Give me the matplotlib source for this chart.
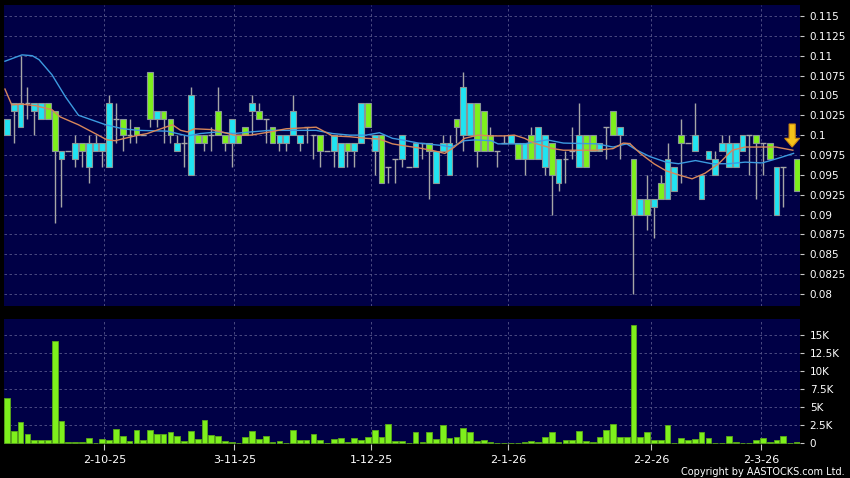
import matplotlib
matplotlib.use("Agg")
import matplotlib.pyplot as plt
from matplotlib.patches import FancyArrow
import numpy as np

# ---------------- data ----------------
opens = [0.100, 0.103, 0.101, 0.104, 0.103, 0.102, 0.104, 0.103, 0.097, 0.098,
         0.097, 0.099, 0.096, 0.098, 0.098, 0.096, 0.102, 0.102, 0.100, 0.101,
         0.100, 0.108, 0.102, 0.103, 0.102, 0.098, 0.099, 0.095, 0.100, 0.100,
         0.100, 0.103, 0.100, 0.099, 0.100, 0.101, 0.103, 0.103, 0.102, 0.101,
         0.099, 0.099, 0.100, 0.099, 0.101, 0.100, 0.100, 0.098, 0.098, 0.096,
         0.099, 0.098, 0.099, 0.104, 0.098, 0.100, 0.096, 0.097, 0.097, 0.096,
         0.096, 0.099, 0.099, 0.094, 0.098, 0.095, 0.102, 0.100, 0.100, 0.104,
         0.103, 0.100, 0.098, 0.099, 0.099, 0.099, 0.097, 0.100, 0.097, 0.096,
         0.099, 0.094, 0.097, 0.098, 0.096, 0.100, 0.100, 0.098, 0.101, 0.103,
         0.100, 0.099, 0.097, 0.090, 0.092, 0.091, 0.094, 0.092, 0.093, 0.100,
         0.099, 0.098, 0.092, 0.097, 0.095, 0.098, 0.096, 0.096, 0.098, 0.100,
         0.100, 0.099, 0.099, 0.090, 0.096, np.nan, 0.097]
closes = [0.102, 0.104, 0.104, 0.104, 0.104, 0.104, 0.102, 0.098, 0.098, 0.098,
          0.099, 0.098, 0.099, 0.099, 0.099, 0.104, 0.102, 0.100, 0.100, 0.100,
          0.100, 0.102, 0.103, 0.102, 0.100, 0.099, 0.099, 0.105, 0.099, 0.099,
          0.100, 0.100, 0.099, 0.102, 0.099, 0.100, 0.104, 0.102, 0.102, 0.099,
          0.100, 0.100, 0.103, 0.100, 0.101, 0.100, 0.098, 0.098, 0.100, 0.099,
          0.098, 0.099, 0.104, 0.101, 0.100, 0.094, 0.096, 0.097, 0.100, 0.096,
          0.099, 0.099, 0.098, 0.098, 0.099, 0.099, 0.101, 0.106, 0.104, 0.098,
          0.098, 0.098, 0.098, 0.099, 0.100, 0.097, 0.099, 0.097, 0.101, 0.100,
          0.095, 0.097, 0.097, 0.098, 0.100, 0.096, 0.098, 0.099, 0.101, 0.100,
          0.101, 0.099, 0.090, 0.092, 0.090, 0.092, 0.092, 0.097, 0.096, 0.099,
          0.099, 0.100, 0.095, 0.098, 0.097, 0.099, 0.099, 0.099, 0.100, 0.100,
          0.099, 0.099, 0.097, 0.096, 0.096, np.nan, 0.093]
highs = [0.102, 0.104, 0.110, 0.106, 0.104, 0.104, 0.104, 0.103, 0.098, 0.098,
         0.100, 0.099, 0.100, 0.100, 0.099, 0.105, 0.104, 0.102, 0.102, 0.101,
         0.100, 0.108, 0.103, 0.103, 0.102, 0.100, 0.100, 0.106, 0.100, 0.100,
         0.101, 0.106, 0.100, 0.102, 0.100, 0.101, 0.105, 0.104, 0.102, 0.101,
         0.100, 0.100, 0.105, 0.100, 0.101, 0.100, 0.100, 0.098, 0.100, 0.099,
         0.099, 0.099, 0.104, 0.104, 0.100, 0.100, 0.096, 0.097, 0.100, 0.096,
         0.099, 0.099, 0.099, 0.098, 0.100, 0.100, 0.102, 0.108, 0.104, 0.104,
         0.103, 0.101, 0.098, 0.100, 0.100, 0.099, 0.099, 0.101, 0.101, 0.100,
         0.099, 0.097, 0.098, 0.101, 0.104, 0.100, 0.100, 0.099, 0.101, 0.103,
         0.101, 0.099, 0.097, 0.092, 0.095, 0.092, 0.095, 0.099, 0.096, 0.102,
         0.099, 0.104, 0.095, 0.098, 0.098, 0.100, 0.100, 0.099, 0.100, 0.100,
         0.100, 0.099, 0.099, 0.096, 0.096, np.nan, 0.097]
lows = [0.100, 0.099, 0.101, 0.102, 0.100, 0.102, 0.102, 0.089, 0.091, 0.098,
        0.096, 0.096, 0.094, 0.098, 0.096, 0.096, 0.099, 0.098, 0.099, 0.099,
        0.100, 0.101, 0.101, 0.099, 0.099, 0.098, 0.096, 0.095, 0.099, 0.098,
        0.098, 0.100, 0.098, 0.096, 0.099, 0.100, 0.100, 0.102, 0.099, 0.099,
        0.098, 0.098, 0.100, 0.098, 0.099, 0.097, 0.096, 0.098, 0.096, 0.096,
        0.096, 0.096, 0.099, 0.101, 0.095, 0.094, 0.094, 0.094, 0.096, 0.096,
        0.096, 0.097, 0.092, 0.094, 0.098, 0.095, 0.099, 0.098, 0.100, 0.096,
        0.098, 0.098, 0.096, 0.099, 0.099, 0.097, 0.095, 0.097, 0.097, 0.095,
        0.090, 0.093, 0.094, 0.097, 0.096, 0.096, 0.098, 0.098, 0.097, 0.100,
        0.097, 0.099, 0.080, 0.090, 0.088, 0.087, 0.092, 0.092, 0.093, 0.094,
        0.099, 0.098, 0.092, 0.097, 0.095, 0.098, 0.096, 0.096, 0.098, 0.095,
        0.092, 0.095, 0.097, 0.090, 0.091, np.nan, 0.093]
volumes = [6250, 1760, 2960, 1300, 510, 510, 420, 14170, 3100, 230,
           140, 140, 740, 0, 560, 420, 2000, 1020, 320, 1850,
           460, 1800, 1340, 1340, 1570, 1020, 280, 1670, 650, 3240,
           1160, 970, 280, 230, 90, 880, 1710, 600, 970, 190,
           280, 0, 1900, 460, 460, 1250, 420, 0, 600, 690,
           190, 740, 420, 930, 1850, 880, 2690, 280, 280, 0,
           1530, 190, 1500, 650, 2500, 790, 880, 2080, 1570, 320,
           420, 230, 0, 0, 0, 0, 140, 320, 140, 880,
           1570, 140, 510, 510, 1760, 320, 230, 880, 1800, 2690,
           880, 930, 16390, 880, 1570, 420, 420, 2500, 90, 740,
           420, 650, 1570, 740, 0, 0, 1020, 140, 0, 0,
           420, 740, 140, 510, 1020, 0, 140]

# moving-average lines, read point by point (x in trading-day slots)
ma_short_x = [-0.3, 0.7, 2.2, 4.2, 6.6, 7.8, 10.5, 12.5, 14.7, 15.9, 17.8, 19.3, 20.6,
              22.6, 24.3, 25.5, 26.5, 27.5, 30, 32, 33.3, 35.8, 38.6, 41, 45.4, 47.8,
              50.3, 52.7, 54.7, 56.6, 58, 60.4, 62.3, 64.3, 65.7, 67.2, 69.2, 71.1,
              73, 74.5, 76, 77.4, 80.2, 81.7, 86.6, 89, 90.5, 91.5, 93, 95, 96.8,
              98.6, 100.6, 102.5, 104.5, 106.5, 108.4, 110.9, 112.9, 115.4]
ma_short_y = [0.1058, 0.1038, 0.1039, 0.1037, 0.1032, 0.1023, 0.1013, 0.1004, 0.0994,
              0.0993, 0.0997, 0.1000, 0.1002, 0.1008, 0.1013, 0.1006, 0.1004, 0.1008,
              0.1007, 0.1003, 0.1000, 0.1000, 0.1004, 0.1008, 0.1010, 0.0999, 0.0998,
              0.0996, 0.0995, 0.0989, 0.0987, 0.0984, 0.0981, 0.0977, 0.0985, 0.0996,
              0.1000, 0.0999, 0.0999, 0.1000, 0.0996, 0.0990, 0.0983, 0.0981, 0.0981,
              0.0983, 0.0990, 0.0989, 0.0977, 0.0964, 0.0955, 0.0950, 0.0945, 0.0952,
              0.0964, 0.0981, 0.0985, 0.0985, 0.0985, 0.0981]
ma_long_x = [-0.3, 2.2, 3.7, 4.7, 6.6, 8.6, 10.5, 12.5, 14.5, 17, 19.3, 23.5, 26.5,
             28.4, 30.9, 33.3, 35.8, 38.6, 41.9, 45.4, 47.8, 50.3, 52.7, 54.7, 56.6,
             58, 60.4, 63.8, 65.3, 67.2, 68.7, 71.1, 72.1, 76, 79.3, 81.7, 86.6, 89,
             91, 92.5, 94.4, 96.8, 98.6, 101.1, 103.5, 106, 108.4, 110.9, 113.3, 115.5]
ma_long_y = [0.1093, 0.1101, 0.1100, 0.1095, 0.1076, 0.1048, 0.1025, 0.1019, 0.1013,
             0.1008, 0.1006, 0.1005, 0.0999, 0.1002, 0.1004, 0.1002, 0.1004, 0.1006,
             0.1006, 0.1006, 0.1002, 0.1000, 0.1000, 0.1003, 0.0996, 0.0994, 0.0990,
             0.0987, 0.0985, 0.0993, 0.0994, 0.0993, 0.0989, 0.0989, 0.0994, 0.0990,
             0.0989, 0.0985, 0.0989, 0.0981, 0.0973, 0.0966, 0.0964, 0.0968, 0.0964,
             0.0964, 0.0966, 0.0965, 0.0971, 0.0977]

date_labels = ["2-10-25", "3-11-25", "1-12-25", "2-1-26", "2-2-26", "2-3-26"]
date_slots = [14.3, 33.4, 53.5, 73.6, 94.6, 110.7]
price_ticks = [0.08, 0.0825, 0.085, 0.0875, 0.09, 0.0925, 0.095, 0.0975, 0.1,
               0.1025, 0.105, 0.1075, 0.11, 0.1125, 0.115]
price_labels = ["0.08", "0.0825", "0.085", "0.0875", "0.09", "0.0925", "0.095",
                "0.0975", "0.1", "0.1025", "0.105", "0.1075", "0.11", "0.1125", "0.115"]
vol_ticks = [0, 2500, 5000, 7500, 10000, 12500, 15000]
vol_labels = ["0", "2.5K", "5K", "7.5K", "10K", "12.5K", "15K"]

# ---------------- style ----------------
BG = "#000000"
PANEL = "#000046"
GRID = "#55558a"
UP = "#20e4f2"
DOWN = "#7ef01c"
EDGE = "#8a9696"
WICK = "#a6a6a6"
TXT = "#ffffff"

o = np.array(opens); c = np.array(closes)
h = np.array(highs); l = np.array(lows)
v = np.array(volumes, dtype=float)
idx = np.arange(len(o))

fig = plt.figure(figsize=(8.5, 4.78), dpi=100, facecolor=BG)
ax = fig.add_axes([4/850, 1-306/478, 796/850, 301/478], facecolor=PANEL)
axv = fig.add_axes([4/850, 1-444/478, 796/850, 125/478], facecolor=PANEL)

xlim = (-0.44, 116.45)
for a in (ax, axv):
    a.set_xlim(*xlim)
    for s in a.spines.values():
        s.set_visible(False)
    a.yaxis.tick_right()
    a.tick_params(axis="y", colors="#c8c8c8", labelcolor=TXT, labelsize=7.5,
                  length=3, width=0.8, pad=4)
    for xp in date_slots:
        a.axvline(xp, color=GRID, lw=0.6, ls=(0, (3, 3)), zorder=0.5)

ax.set_ylim(0.07849, 0.11638)
ax.set_yticks(price_ticks)
ax.set_yticklabels(price_labels)
ax.set_xticks([])
for yv in price_ticks:
    ax.axhline(yv, color=GRID, lw=0.6, ls=(0, (3, 3)), zorder=0.5)

# candles
valid = ~np.isnan(o)
ax.vlines(idx[valid], l[valid], h[valid], color=WICK, lw=1.0, zorder=2)
body_w = 0.84
up = valid & (c > o)
dn = valid & (c < o)
dj = valid & (c == o)
ax.bar(idx[up], (c - o)[up], bottom=o[up], width=body_w, color=UP,
       edgecolor=EDGE, linewidth=0.8, zorder=3)
ax.bar(idx[dn], (o - c)[dn], bottom=c[dn], width=body_w, color=DOWN,
       edgecolor=EDGE, linewidth=0.8, zorder=3)
ax.hlines(o[dj], idx[dj] - body_w/2, idx[dj] + body_w/2, color=WICK, lw=1.0, zorder=3)

# moving averages
ax.plot(ma_long_x, ma_long_y, color="#3c9be0", lw=1.0, zorder=4)
ax.plot(ma_short_x, ma_short_y, color="#d8875a", lw=1.0, zorder=4)

# down arrow marker over the last bar
last = idx[valid][-1]
tip = o[valid][-1] + 0.0015
arr = FancyArrow(last - 0.7, tip + 0.0029, 0, -0.0029, width=0.9, head_width=2.2,
                 head_length=0.0011, length_includes_head=True,
                 facecolor="#f6c21a", edgecolor="#d08a10", lw=0.8, zorder=6)
ax.add_patch(arr)

# volume
axv.set_ylim(-97, 17216)
axv.set_yticks(vol_ticks)
axv.set_yticklabels(vol_labels)
for yv in vol_ticks[1:]:
    axv.axhline(yv, color=GRID, lw=0.6, ls=(0, (3, 3)), zorder=0.5)
axv.bar(idx, v, width=body_w, color=DOWN, edgecolor="#5aa818", linewidth=0.6, zorder=3)
axv.set_xticks(date_slots)
axv.set_xticklabels(date_labels)
axv.tick_params(axis="x", colors="#c8c8c8", labelcolor=TXT, labelsize=8,
                length=4, width=0.8, pad=4)

fig.text(845/850, 1-472/478, "Copyright by AASTOCKS.com Ltd.", color=TXT,
         fontsize=7, ha="right", va="center")

fig.savefig("out.png", dpi=100, facecolor=BG)
